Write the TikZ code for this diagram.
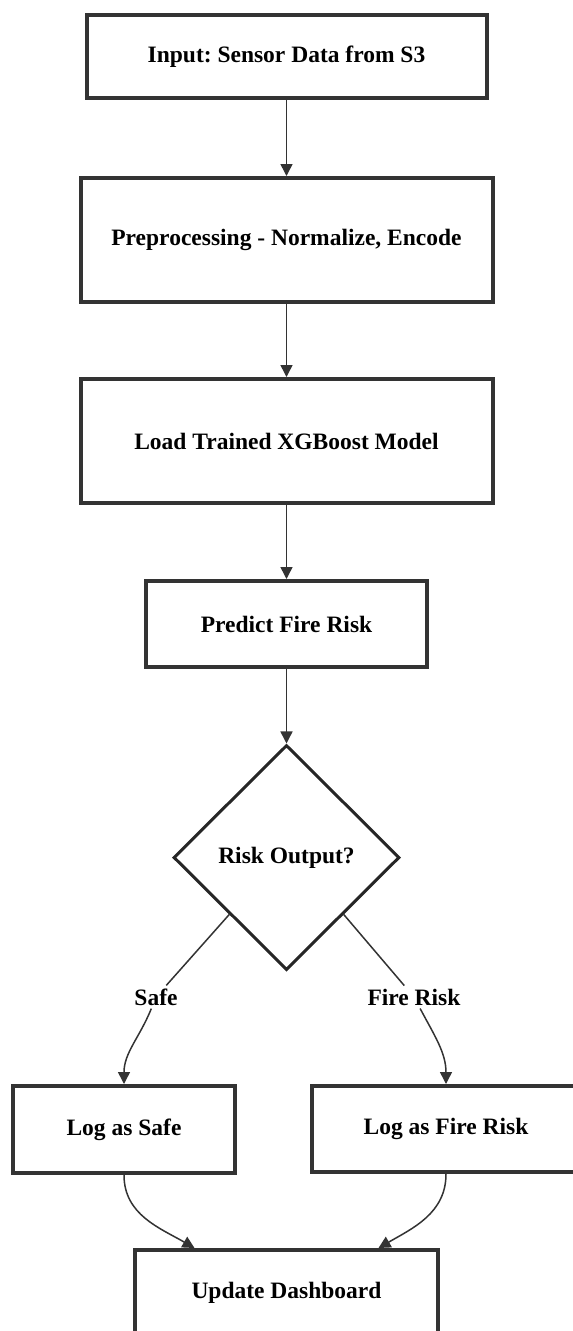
\documentclass[tikz,border=0pt]{standalone}
\usepackage{fontspec}
\setmainfont{Liberation Serif}
\frenchspacing
\usetikzlibrary{
  arrows.meta,%
  % diamond for the decision
  shapes.geometric,%
  positioning
}
\definecolor{boxgray}{RGB}{51,51,51}
\definecolor{linegray}{RGB}{51,51,51}
\tikzset{>={Triangle[length=12pt, width=12pt]}}
\tikzset{font=\fontsize{23.5}{28}\selectfont\bfseries}
\tikzset{
  stepbox/.style={draw=boxgray, line width=4pt, fill=white, inner sep=0pt, align=center},
  decide/.style={diamond, draw=black!85, line width=3pt, fill=white, inner sep=0pt,
    minimum width=226pt, minimum height=225pt},
  link/.style={line width=1.5pt, draw=linegray},
  flow/.style={link, ->},
  branch/.style={fill=white, inner sep=3pt}
}

\begin{document}
\begin{tikzpicture}[x=1pt, y=-1pt]
  \useasboundingbox (0,0) rectangle (573,1331); %
  \node[stepbox, minimum width=400pt, minimum height=83pt] (in) at (286.5,56.5) {Input: Sensor Data from S3}; %
  \node[stepbox, minimum width=412pt, minimum height=124pt] (prep) at (286.5,240) {Preprocessing - Normalize, Encode}; %
  \node[stepbox, minimum width=412pt, minimum height=124pt] (load) at (286.5,441) {Load Trained XGBoost Model}; %
  \node[stepbox, minimum width=281pt, minimum height=86pt] (pred) at (286.5,624) {Predict Fire Risk}; %
  \node[decide] (risk) at (286.5,857.5) {Risk Output?}; %
  \node[stepbox, minimum width=222pt, minimum height=87pt] (safe) at (124,1129.5) {Log as Safe}; %
  \node[stepbox, minimum width=268pt, minimum height=86pt] (fire) at (446,1129) {Log as Fire Risk}; %
  \node[stepbox, minimum width=303pt, minimum height=86pt] (dash) at (286.5,1293) {Update Dashboard}; %
  \node[branch] (lsafe) at (156,997) {Safe}; %
  \node[branch] (lfire) at (414,997) {Fire Risk}; %
  \draw[flow] (in) -- (prep); %
  \draw[flow] (prep) -- (load); %
  \draw[flow] (load) -- (pred); %
  \draw[flow] (pred) -- (risk); %
  \draw[link] (risk.south west) -- (lsafe); %
  \draw[flow] (lsafe) to[out=-112, in=90] (safe.north); %
  \draw[link] (risk.south east) -- (lfire); %
  \draw[flow] (lfire) to[out=-62, in=90] (fire.north); %
  \draw[flow] (safe.south) to[out=-90, in=150] ([xshift=-92pt]dash.north); %
  \draw[flow] (fire.south) to[out=-90, in=30] ([xshift=92pt]dash.north); %
\end{tikzpicture}
\end{document}
